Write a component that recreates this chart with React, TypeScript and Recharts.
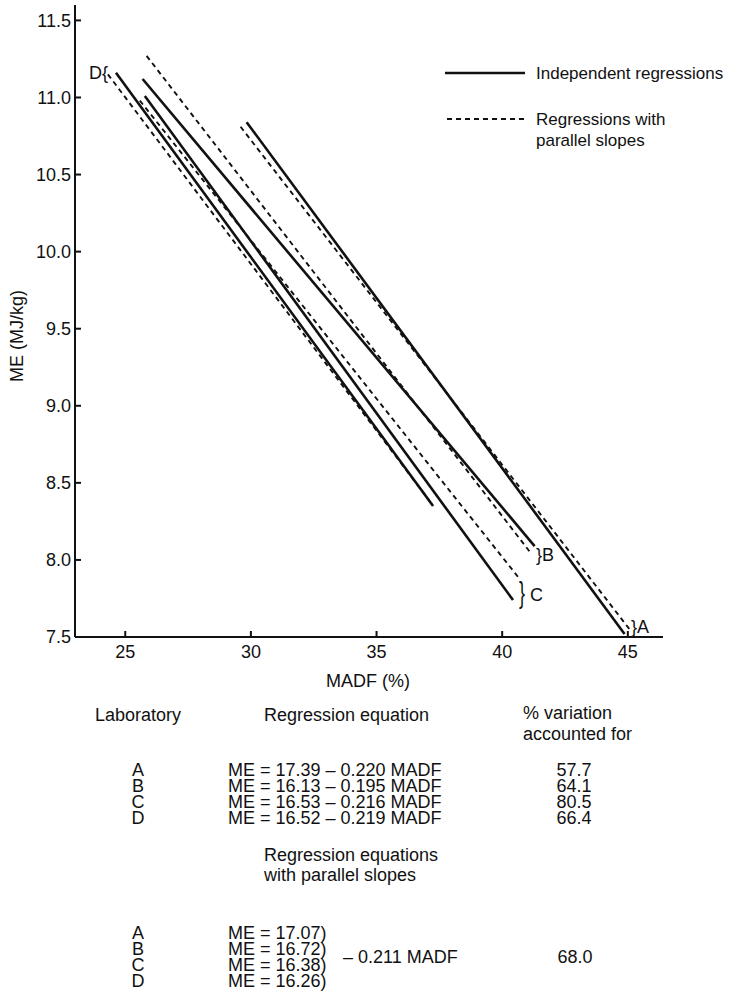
import React from 'react'
import { LineChart, Line, XAxis, YAxis } from 'recharts'

const FONT = '"Liberation Sans", Arial, Helvetica, sans-serif'
const INK = '#111'

const xTicks = [25, 30, 35, 40, 45]
const yTicks = [7.5, 8.0, 8.5, 9.0, 9.5, 10.0, 10.5, 11.0, 11.5]

// end points: MADF (%), ME (MJ/kg)
const indepA = [{ x: 29.83, y: 10.84 }, { x: 44.87, y: 7.52 }]
const indepB = [{ x: 25.69, y: 11.12 }, { x: 41.29, y: 8.09 }]
const indepC = [{ x: 25.78, y: 11.01 }, { x: 40.43, y: 7.74 }]
const indepD = [{ x: 24.63, y: 11.16 }, { x: 37.25, y: 8.35 }]

const parA = [{ x: 29.59, y: 10.81 }, { x: 45.07, y: 7.55 }]
const parB = [{ x: 25.85, y: 11.27 }, { x: 41.16, y: 8.04 }]
const parC = [{ x: 25.58, y: 10.98 }, { x: 40.63, y: 7.89 }]
const parD = [{ x: 24.31, y: 11.15 }, { x: 37.12, y: 8.38 }]

const labs = ['A', 'B', 'C', 'D']
const equations = [
  'ME = 17.39 \u2013 0.220 MADF',
  'ME = 16.13 \u2013 0.195 MADF',
  'ME = 16.53 \u2013 0.216 MADF',
  'ME = 16.52 \u2013 0.219 MADF',
]
const variation = ['57.7', '64.1', '80.5', '66.4']
const parallelIntercepts = ['17.07', '16.72', '16.38', '16.26']
const parallelSlope = '\u2013 0.211 MADF'
const parallelVariation = '68.0'

const indep = [indepA, indepB, indepC, indepD]
const par = [parA, parB, parC, parD]

function T({ x, y, children, anchor = 'start', size = 18, style = {} }: any) {
  const shift = anchor === 'middle' ? '-50%' : anchor === 'end' ? '-100%' : '0'
  return (
    <div
      style={{
        position: 'absolute',
        left: x,
        top: y - 8,
        lineHeight: '16px',
        fontSize: size,
        whiteSpace: 'nowrap',
        transform: `translateX(${shift})`,
        ...style,
      }}
    >
      {children}
    </div>
  )
}

// a column of rows kept in one text block
function Col({ x, y, lines, align = 'left', lh = 16, size = 18 }: any) {
  return (
    <div
      style={{
        position: 'absolute',
        left: align === 'center' ? x - 60 : x,
        width: align === 'center' ? 120 : undefined,
        top: y - lh / 2,
        lineHeight: `${lh}px`,
        fontSize: size,
        whiteSpace: 'pre',
        textAlign: align,
      }}
    >
      {lines.join('\n')}
    </div>
  )
}

export default function App() {
  return (
    <div style={{ position: 'absolute', left: 0, top: 0, width: 735, height: 1006, background: '#fff', fontFamily: FONT, color: INK }}>
      <LineChart width={735} height={720} margin={{ top: 5, right: 72, left: 15, bottom: 53 }}>
        <XAxis
          type="number"
          dataKey="x"
          domain={[23, 46.4]}
          ticks={xTicks}
          allowDataOverflow
          stroke={INK}
          strokeWidth={2}
          tickSize={-6}
          tickMargin={14}
          height={30}
          tick={{ fill: INK, fontSize: 18, fontFamily: FONT }}
        />
        <YAxis
          type="number"
          dataKey="y"
          domain={[7.5, 11.6]}
          ticks={yTicks}
          allowDataOverflow
          stroke={INK}
          strokeWidth={2}
          width={60}
          tickSize={-6}
          tickMargin={10}
          tickFormatter={(v: number) => v.toFixed(1)}
          tick={{ fill: INK, fontSize: 18, fontFamily: FONT }}
        />
        {indep.map((d, i) => (
          <Line key={'i' + i} data={d} dataKey="y" stroke={INK} strokeWidth={2.6} dot={false} isAnimationActive={false} />
        ))}
        {par.map((d, i) => (
          <Line key={'p' + i} data={d} dataKey="y" stroke={INK} strokeWidth={1.9} strokeDasharray="5 4" dot={false} isAnimationActive={false} />
        ))}
      </LineChart>

      {/* y axis title */}
      <div style={{ position: 'absolute', left: 17, top: 336, fontSize: 18, lineHeight: '18px', whiteSpace: 'nowrap', transform: 'translate(-50%, -50%) rotate(-90deg)' }}>
        ME (MJ/kg)
      </div>
      <T x={368} y={681} anchor="middle">MADF (%)</T>

      {/* legend */}
      <svg style={{ position: 'absolute', left: 0, top: 0 }} width={735} height={160}>
        <line x1={445} x2={525} y1={73} y2={73} stroke={INK} strokeWidth={2.6} />
        <line x1={447} x2={525} y1={119} y2={119} stroke={INK} strokeWidth={1.9} strokeDasharray="5 4" />
      </svg>
      <T x={536} y={74} size={17}>Independent regressions</T>
      <div style={{ position: 'absolute', left: 536, top: 109, lineHeight: '21px', fontSize: 17, whiteSpace: 'pre' }}>
        {'Regressions with\nparallel slopes'}
      </div>

      {/* line tags */}
      <T x={89} y={73}>D{'{'}</T>
      <T x={536} y={555}>{'}'}B</T>
      <T x={519} y={593} style={{ transform: 'scaleY(1.6)' }}>{'}'}</T>
      <T x={530} y={595}>C</T>
      <T x={631} y={627}>{'}'}A</T>

      {/* table */}
      <T x={95} y={715}>Laboratory</T>
      <T x={264} y={715}>Regression equation</T>
      <div style={{ position: 'absolute', left: 523, top: 703, lineHeight: '21px', fontSize: 18, whiteSpace: 'pre' }}>
        {'% variation\naccounted for'}
      </div>
      <Col x={138} y={770} lines={labs} align="center" />
      <Col x={228} y={770} lines={equations} />
      <Col x={574} y={770} lines={variation} align="center" />

      <div style={{ position: 'absolute', left: 264, top: 845, lineHeight: '20px', fontSize: 18, whiteSpace: 'pre' }}>
        {'Regression equations\nwith parallel slopes'}
      </div>
      <Col x={138} y={933} lines={labs} align="center" />
      <Col x={228} y={933} lines={parallelIntercepts.map((v) => `ME = ${v})`)} />
      <T x={343} y={957}>{parallelSlope}</T>
      <T x={575} y={957} anchor="middle">{parallelVariation}</T>
    </div>
  )
}
